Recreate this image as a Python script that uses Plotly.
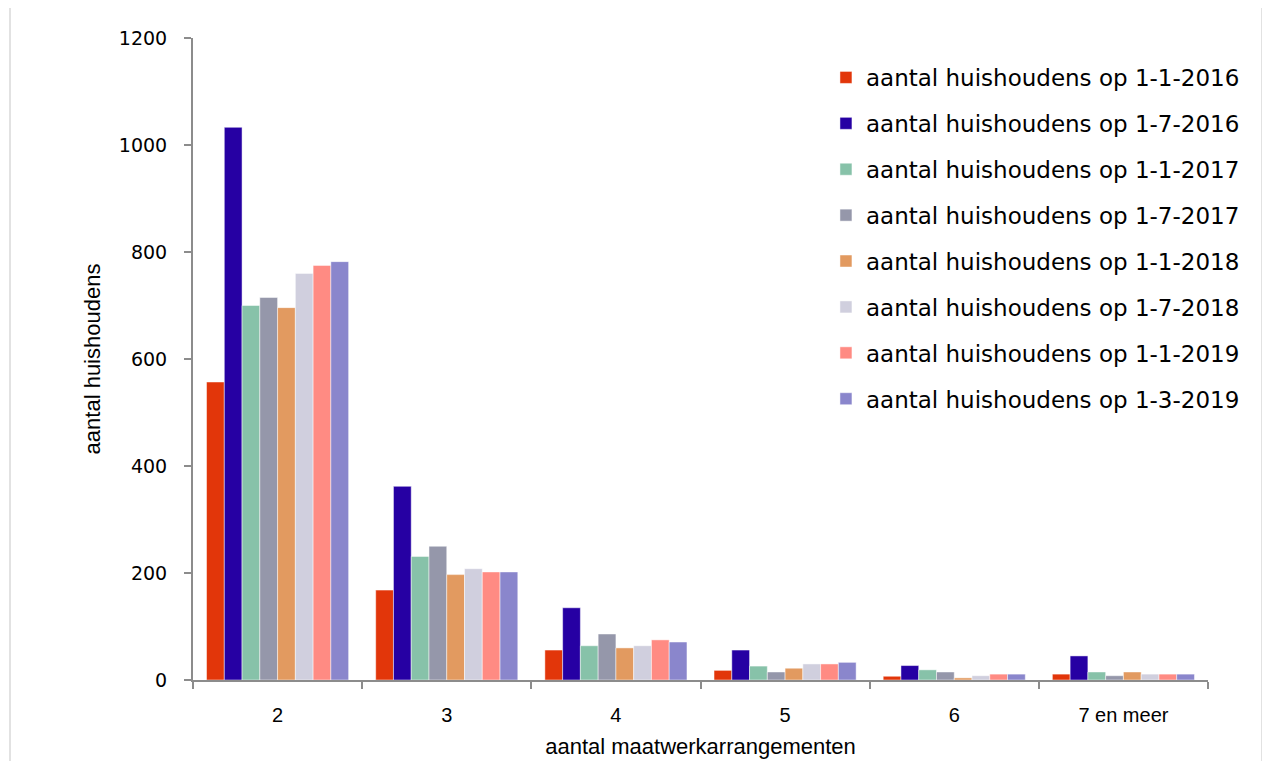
import plotly.graph_objects as go

# Categories on the x axis
categories = ["2", "3", "4", "5", "6", "7 en meer"]

# Series: number of households per date
hh_2016_01 = [557, 168, 56, 18, 7, 11]
hh_2016_07 = [1033, 362, 135, 56, 27, 45]
hh_2017_01 = [700, 231, 64, 26, 19, 15]
hh_2017_07 = [715, 250, 86, 15, 15, 8]
hh_2018_01 = [696, 197, 60, 22, 4, 15]
hh_2018_07 = [760, 208, 64, 30, 8, 11]
hh_2019_01 = [775, 202, 75, 30, 11, 11]
hh_2019_03 = [782, 202, 71, 33, 11, 11]

series = [
    ("aantal huishoudens op 1-1-2016", hh_2016_01, "#E2360A"),
    ("aantal huishoudens op 1-7-2016", hh_2016_07, "#2600A3"),
    ("aantal huishoudens op 1-1-2017", hh_2017_01, "#87C2A9"),
    ("aantal huishoudens op 1-7-2017", hh_2017_07, "#9597AA"),
    ("aantal huishoudens op 1-1-2018", hh_2018_01, "#E29A60"),
    ("aantal huishoudens op 1-7-2018", hh_2018_07, "#D0CFDE"),
    ("aantal huishoudens op 1-1-2019", hh_2019_01, "#FF8B83"),
    ("aantal huishoudens op 1-3-2019", hh_2019_03, "#8A86CC"),
]

fig = go.Figure()
for name, values, color in series:
    fig.add_trace(go.Bar(
        x=categories, y=values, name=name, legendgroup=name,
        marker=dict(color=color, line=dict(color="rgba(255,255,255,0.6)", width=0.8)),
    ))

axis_color = "#8c8c8c"

# page body has an 8px margin, so margins are set 8px smaller than the target
fig.update_layout(
    width=1270, height=761,
    margin=dict(l=185, r=70, t=30, b=89),
    paper_bgcolor="white", plot_bgcolor="white",
    font=dict(family="Liberation Sans, Arial, sans-serif", color="black"),
    barmode="group", bargap=0.16, bargroupgap=0,
    showlegend=True,
    legend=dict(
        x=0.6236, y=0.972, xanchor="left", yanchor="top",
        font=dict(size=23, family="DejaVu Sans, Liberation Sans"),
        traceorder="grouped", tracegroupgap=13,
        bgcolor="rgba(0,0,0,0)", itemwidth=30,
    ),
    xaxis=dict(
        type="category", tickson="boundaries", ticks="outside", ticklen=7,
        tickcolor=axis_color, tickwidth=2, showline=True, linecolor=axis_color,
        linewidth=2, showgrid=False, tickfont=dict(size=20),
        ticklabelstandoff=16, automargin=False,
        title=dict(text="aantal maatwerkarrangementen", standoff=14,
                   font=dict(size=22)),
    ),
    yaxis=dict(
        range=[0, 1200], dtick=200, ticks="outside", ticklen=7,
        tickcolor=axis_color, tickwidth=2, showline=True, linecolor=axis_color,
        linewidth=2, showgrid=False, zeroline=False,
        tickfont=dict(size=19, family="DejaVu Sans, Liberation Sans"),
        ticklabelstandoff=13, automargin=False,
        title=dict(text="aantal huishoudens", standoff=12,
                   font=dict(size=22)),
    ),
    shapes=[dict(
        type="rect", xref="paper", yref="paper",
        x0=-0.1803, x1=1.0532, y0=-0.2, y1=1.05,
        line=dict(color="#d9d9d9", width=1.5), fillcolor="rgba(0,0,0,0)", layer="below",
    )],
)

fig.write_html("out.html")
